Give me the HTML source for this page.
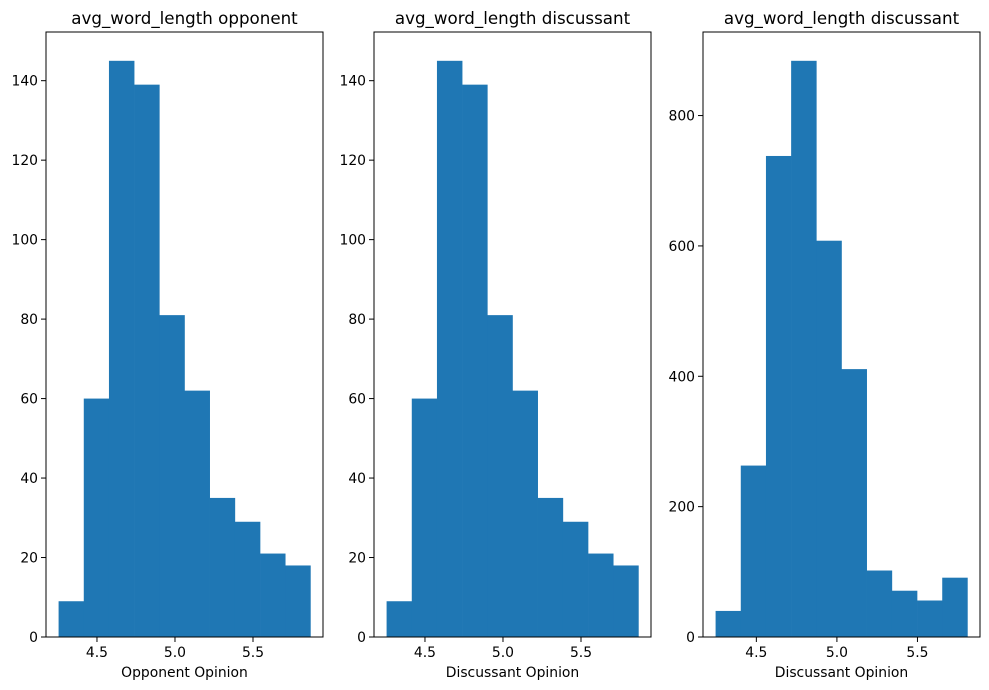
<!DOCTYPE html>
<html><head><meta charset="utf-8"><style>
body{margin:0;background:#fff;}
svg{display:block;font-family:"DejaVu Sans","Liberation Sans",sans-serif;}
</style></head><body>
<svg id="chart" width="989" height="690" xmlns="http://www.w3.org/2000/svg"></svg>
<script>
const titles = ["avg_word_length opponent","avg_word_length discussant","avg_word_length discussant"];
const xlabels = ["Opponent Opinion","Discussant Opinion","Discussant Opinion"];
const binStart = [4.254, 4.254, 4.247];
const binEnd = [5.868, 5.868, 5.81];
const countsA = [9,60,145,139,81,62,35,29,21,18];
const countsB = [9,60,145,139,81,62,35,29,21,18];
const countsC = [40,263,738,884,608,411,102,71,56,91];
const xticks = [4.5,5.0,5.5];
const xtickLabels = ["4.5","5.0","5.5"];
const yticksA = [0,20,40,60,80,100,120,140];
const yticksC = [0,200,400,600,800];

const svgEl = document.getElementById('chart');
const NS = "http://www.w3.org/2000/svg";
function mk(tag, attrs, parent){const e=document.createElementNS(NS,tag);for(const k in attrs)e.setAttribute(k,attrs[k]);(parent||svgEl).appendChild(e);return e;}
const panels = [
 {x0:46,x1:323,counts:countsA,yt:yticksA},
 {x0:374,x1:651,counts:countsB,yt:yticksA},
 {x0:703,x1:980,counts:countsC,yt:yticksC}
];
const axTop=32, axBot=637;
panels.forEach((p,i)=>{
  const g=mk('g',{});
  
  
  const n=p.counts.length, lo=binStart[i], hi=binEnd[i], w=(hi-lo)/n;
  const pad=(hi-lo)*0.05, xmin=lo-pad, xmax=hi+pad;
  const ymax=Math.max(...p.counts)*1.05;
  const X=v=>p.x0+(v-xmin)/(xmax-xmin)*(p.x1-p.x0);
  const Y=v=>axBot-v/ymax*(axBot-axTop);
  p.counts.forEach((c,j)=>{
    const r=mk('rect',{x:X(lo+j*w),y:Y(c),width:X(lo+(j+1)*w)-X(lo+j*w)+0.3,height:axBot-Y(c),fill:'#1f77b4'},g);
    
    
  });
  const fr=mk('rect',{x:p.x0,y:axTop,width:p.x1-p.x0,height:axBot-axTop,fill:'none',stroke:'#000','stroke-width':1},g);
  
  
  xticks.forEach((t,k)=>{
    const x=X(t);
    mk('line',{x1:x,x2:x,y1:axBot,y2:axBot+5,stroke:'#000'},g);
    const tx=mk('text',{x:x,y:axBot+20,'font-size':13.9,'text-anchor':'middle'},g);
    tx.textContent=xtickLabels[k];
    
    
  });
  p.yt.forEach(t=>{
    const y=Y(t);
    mk('line',{x1:p.x0-5,x2:p.x0,y1:y,y2:y,stroke:'#000'},g);
    const tx=mk('text',{x:p.x0-8,y:y+5,'font-size':13.9,'text-anchor':'end'},g);
    tx.textContent=String(t);
    
    
  });
  const tt=mk('text',{x:(p.x0+p.x1)/2,y:24,'font-size':16.7,'text-anchor':'middle'},g);
  tt.textContent=titles[i];
  
  
  const xl=mk('text',{x:(p.x0+p.x1)/2,y:677,'font-size':13.9,'text-anchor':'middle'},g);
  xl.textContent=xlabels[i];
  
  
});
</script>
</body></html>
